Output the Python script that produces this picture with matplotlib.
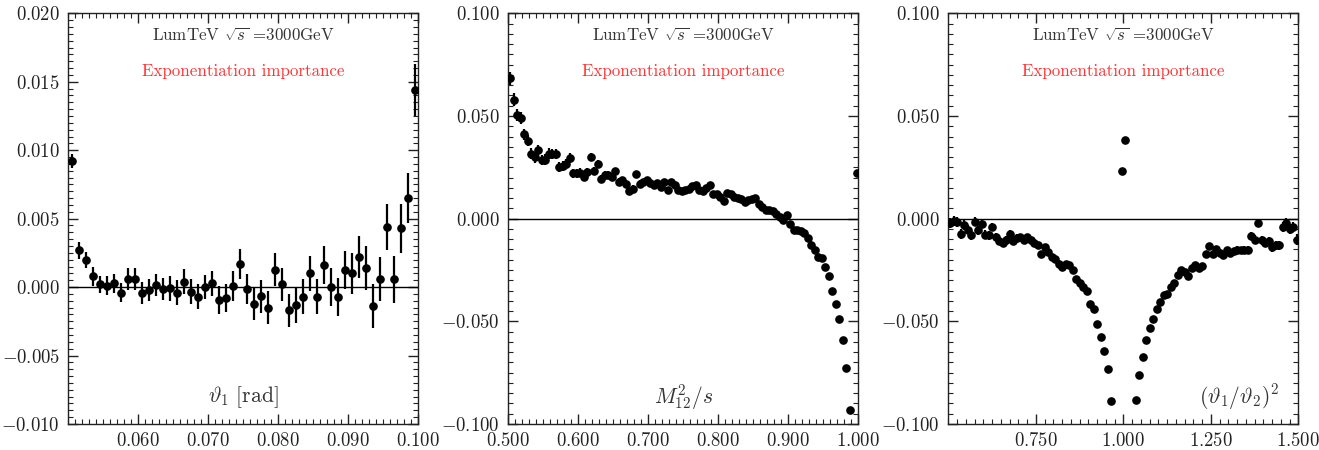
import numpy as np
import matplotlib
matplotlib.use("Agg")
import matplotlib.pyplot as plt
from matplotlib.ticker import MultipleLocator, FixedLocator, FuncFormatter

plt.rcParams['mathtext.fontset'] = 'cm'
plt.rcParams['font.family'] = 'cmr10'
plt.rcParams['axes.formatter.use_mathtext'] = True

nan = np.nan

# ---------------- Panel 1: theta_1 [rad] ----------------
theta1_x = np.round(0.0505 + 0.001 * np.arange(50), 4)
theta1_y = [0.0092, 0.00268, 0.0020, 0.0008, 0.0002, 0.0001, 0.00027, -0.0004, 0.00056, 0.00056,
            -0.00044, -0.0002, 0.00017, -0.00015, -0.0001, -0.0004, 0.0004, -0.00034, -0.0007, 0.0,
            0.00027, -0.00095, -0.0008, 0.0001, 0.0017, -0.00017, -0.0012, -0.00066, -0.0015, 0.00127,
            0.0002, -0.0017, -0.0013, -0.0007, 0.0010, -0.0007, 0.0016, 0.0, -0.0007, 0.00127,
            0.0010, 0.0022, 0.0014, -0.0014, 0.0006, 0.0044, 0.00056, 0.0043, 0.0065, 0.0144]
theta1_err = [0.0005, 0.0006, 0.0006, 0.0007, 0.0006, 0.0007, 0.0007, 0.0007, 0.0008, 0.0008,
              0.0008, 0.0008, 0.0008, 0.0008, 0.0009, 0.0009, 0.0009, 0.0009, 0.0009, 0.0009,
              0.0009, 0.0010, 0.0010, 0.0011, 0.0011, 0.0011, 0.0012, 0.0012, 0.0012, 0.0012,
              0.0012, 0.0012, 0.0013, 0.0013, 0.0013, 0.0013, 0.0014, 0.0014, 0.0014, 0.0014,
              0.0015, 0.0015, 0.0016, 0.0016, 0.0016, 0.0017, 0.0017, 0.0018, 0.0018, 0.0019]

# ---------------- Panel 2: M12^2/s ----------------
m12_x = np.round(0.5025 + 0.005 * np.arange(100), 4)
m12_y = [0.0683, 0.058, 0.0504, 0.0488, 0.041, 0.0379, 0.0317, 0.0298, 0.0333, 0.0285,
         0.0288, 0.0317, 0.0314, 0.0314, 0.0252, 0.0257, 0.0268, 0.0296, 0.022, 0.022,
         0.0223, 0.0203, 0.0228, 0.0301, 0.0231, 0.0265, 0.0193, 0.0211, 0.0211, 0.0203,
         0.0231, 0.0179, 0.0187, 0.0171, 0.0133, 0.0146, 0.0216, 0.0171, 0.0179, 0.0187,
         0.0174, 0.0163, 0.0174, 0.0154, 0.0179, 0.0138, 0.0179, 0.0163, 0.0141, 0.0135,
         0.0138, 0.0146, 0.0158, 0.0163, 0.0138, 0.0133, 0.0151, 0.0166, 0.0122, 0.0119,
         0.0106, 0.0085, 0.0125, 0.0119, 0.0106, 0.0101, 0.0094, 0.0081, 0.0089, 0.0098,
         0.0101, 0.0070, 0.0057, 0.0041, 0.0044, 0.0037, 0.0024, 0.0008, -0.0005, 0.0016,
         -0.0028, -0.0057, -0.0057, -0.0060, -0.0068, -0.0093, -0.013, -0.0151, -0.0187, -0.019,
         -0.0236, -0.0278, -0.0353, -0.0418, -0.0488, -0.0589, -0.0727, -0.0932, nan, 0.0224]
m12_err = [0.0032, 0.0030, 0.0029, 0.0029, 0.0028, 0.0027, 0.0027, 0.0026, 0.0026, 0.0026,
           0.0025, 0.0025, 0.0025, 0.0024, 0.0024, 0.0023, 0.0023, 0.0023, 0.0022, 0.0022,
           0.0022, 0.0021, 0.0021, 0.0021, 0.0020, 0.0020, 0.0020, 0.0019, 0.0019, 0.0019,
           0.0018, 0.0018, 0.0018, 0.0017, 0.0017, 0.0017, 0.0016, 0.0016, 0.0016, 0.0015,
           0.0015, 0.0015, 0.0014, 0.0014, 0.0014, 0.0013, 0.0013, 0.0013, 0.0012, 0.0012,
           0.0012, 0.0012, 0.0011, 0.0011, 0.0011, 0.0011, 0.0010, 0.0010, 0.0010, 0.0010,
           0.0009, 0.0009, 0.0009, 0.0009, 0.0008, 0.0008, 0.0008, 0.0008, 0.0008, 0.0007,
           0.0007, 0.0007, 0.0007, 0.0007, 0.0006, 0.0006, 0.0006, 0.0006, 0.0006, 0.0006,
           0.0005, 0.0005, 0.0005, 0.0005, 0.0005, 0.0005, 0.0005, 0.0005, 0.0005, 0.0005,
           0.0005, 0.0005, 0.0005, 0.0005, 0.0005, 0.0005, 0.0005, 0.0005, 0.0005, 0.0005]

# ---------------- Panel 3: (theta1/theta2)^2 ----------------
ratio_x = np.round(0.505 + 0.01 * np.arange(100), 3)
ratio_y = [-0.0021, -0.0013, -0.0016, -0.0073, -0.0033, -0.0054, -0.0081, -0.0016, -0.0057, -0.0024,
           -0.0078, -0.0081, -0.0041, -0.0089, -0.0109, -0.0119, -0.0102, -0.0073, -0.0109, -0.0093,
           -0.0089, -0.0102, -0.0089, -0.0102, -0.0117, -0.0127, -0.0174, -0.0138, -0.0163, -0.0187,
           -0.0195, -0.022, -0.0236, -0.022, -0.0224, -0.0249, -0.0293, -0.0314, -0.0333, -0.0354,
           -0.0415, -0.0439, -0.0512, -0.0577, -0.0646, -0.073, -0.0886, nan, nan, 0.0233,
           0.0382, nan, nan, -0.0881, -0.0759, -0.0672, -0.0589, -0.0533, -0.0488, -0.0442,
           -0.0407, -0.0374, -0.0369, -0.0333, -0.0314, -0.0273, -0.0252, -0.026, -0.0281, -0.0239,
           -0.0228, -0.0239, -0.0233, -0.0171, -0.0135, -0.0171, -0.0146, -0.0167, -0.0179, -0.0154,
           -0.0167, -0.0158, -0.0151, -0.0154, -0.0151, -0.0151, -0.0086, -0.0102, -0.002, -0.0106,
           -0.0119, -0.0109, -0.0138, -0.013, -0.013, -0.0041, -0.0021, -0.0049, -0.0041, -0.0102]
ratio_err = [0.0025, 0.0025, 0.0024, 0.0024, 0.0024, 0.0023, 0.0023, 0.0022, 0.0022, 0.0022,
             0.0021, 0.0021, 0.0020, 0.0020, 0.0019, 0.0019, 0.0018, 0.0018, 0.0017, 0.0017,
             0.0016, 0.0016, 0.0015, 0.0015, 0.0014, 0.0014, 0.0013, 0.0012, 0.0012, 0.0011,
             0.0010, 0.0010, 0.0009, 0.0009, 0.0008, 0.0008, 0.0007, 0.0007, 0.0006, 0.0006,
             0.0005, 0.0005, 0.0005, 0.0005, 0.0005, 0.0005, 0.0005, 0.0005, 0.0005, 0.0005,
             0.0005, 0.0005, 0.0005, 0.0005, 0.0005, 0.0005, 0.0005, 0.0005, 0.0005, 0.0006,
             0.0006, 0.0007, 0.0007, 0.0008, 0.0008, 0.0009, 0.0009, 0.0010, 0.0010, 0.0011,
             0.0011, 0.0012, 0.0012, 0.0013, 0.0013, 0.0014, 0.0014, 0.0015, 0.0015, 0.0016,
             0.0016, 0.0017, 0.0017, 0.0018, 0.0018, 0.0019, 0.0019, 0.0020, 0.0020, 0.0021,
             0.0021, 0.0022, 0.0022, 0.0023, 0.0023, 0.0024, 0.0024, 0.0025, 0.0025, 0.0025]

title_text = r"LumTeV $\sqrt{s}$ =3000GeV"
subtitle_text = "Exponentiation importance"

panels = [
    dict(x=theta1_x, y=theta1_y, e=theta1_err, xlim=(0.050, 0.100), ylim=(-0.010, 0.020),
         xticks=[0.060, 0.070, 0.080, 0.090, 0.100], xminor=0.001,
         yticks=[-0.010, -0.005, 0.0, 0.005, 0.010, 0.015, 0.020], yminor=0.0005,
         label=r"$\vartheta_1\ [\mathrm{rad}]$", lx=0.5, left=68.3),
    dict(x=m12_x, y=m12_y, e=m12_err, xlim=(0.5, 1.0), ylim=(-0.1, 0.1),
         xticks=[0.5, 0.6, 0.7, 0.8, 0.9, 1.0], xminor=0.01,
         yticks=[-0.1, -0.05, 0.0, 0.05, 0.1], yminor=0.005,
         label=r"$M_{12}^2/s$", lx=0.5, left=508.3),
    dict(x=ratio_x, y=ratio_y, e=ratio_err, xlim=(0.5, 1.5), ylim=(-0.1, 0.1),
         xticks=[0.75, 1.0, 1.25, 1.5], xminor=0.025,
         yticks=[-0.1, -0.05, 0.0, 0.05, 0.1], yminor=0.005,
         label=r"$(\vartheta_1/\vartheta_2)^2$", lx=0.83, left=948.3),
]

W, H = 1319, 450
fig = plt.figure(figsize=(W / 100, H / 100), dpi=100)


def fmt(v, pos):
    s = f"{v:.3f}"
    if s == "-0.000":
        s = "0.000"
    return "$" + s + "$"


for p in panels:
    ax = fig.add_axes([p['left'] / W, (H - 424.0) / H, 350.0 / W, 410.7 / H])
    ax.errorbar(p['x'], p['y'], yerr=p['e'], fmt='o', color='black', ms=5.2,
                elinewidth=1.6, capsize=0, zorder=3)
    ax.axhline(0.0, color='black', lw=1.0, zorder=2)
    ax.set_xlim(*p['xlim'])
    ax.set_ylim(*p['ylim'])
    ax.xaxis.set_major_locator(FixedLocator(p['xticks']))
    ax.xaxis.set_minor_locator(MultipleLocator(p['xminor']))
    ax.yaxis.set_major_locator(FixedLocator(p['yticks']))
    ax.yaxis.set_minor_locator(MultipleLocator(p['yminor']))
    ax.xaxis.set_major_formatter(FuncFormatter(fmt))
    ax.yaxis.set_major_formatter(FuncFormatter(fmt))
    ax.tick_params(which='both', direction='in', top=True, right=True,
                   colors='#222222', labelsize=13.5)
    ax.tick_params(which='major', length=7, width=1.0, pad=6)
    ax.tick_params(which='minor', length=3.5, width=0.8)
    for sp in ax.spines.values():
        sp.set_color('#222222')
        sp.set_linewidth(1.0)
    ax.text(0.5, 0.947, title_text, transform=ax.transAxes, ha='center', va='center',
            fontsize=12.2, color='#333333')
    ax.text(0.5, 0.858, subtitle_text, transform=ax.transAxes, ha='center', va='center',
            fontsize=12.2, color='#ff3333')
    ax.text(p['lx'], 0.066, p['label'], transform=ax.transAxes, ha='center', va='center',
            fontsize=15.5, color='#333333')

fig.savefig("out.png", dpi=100)
